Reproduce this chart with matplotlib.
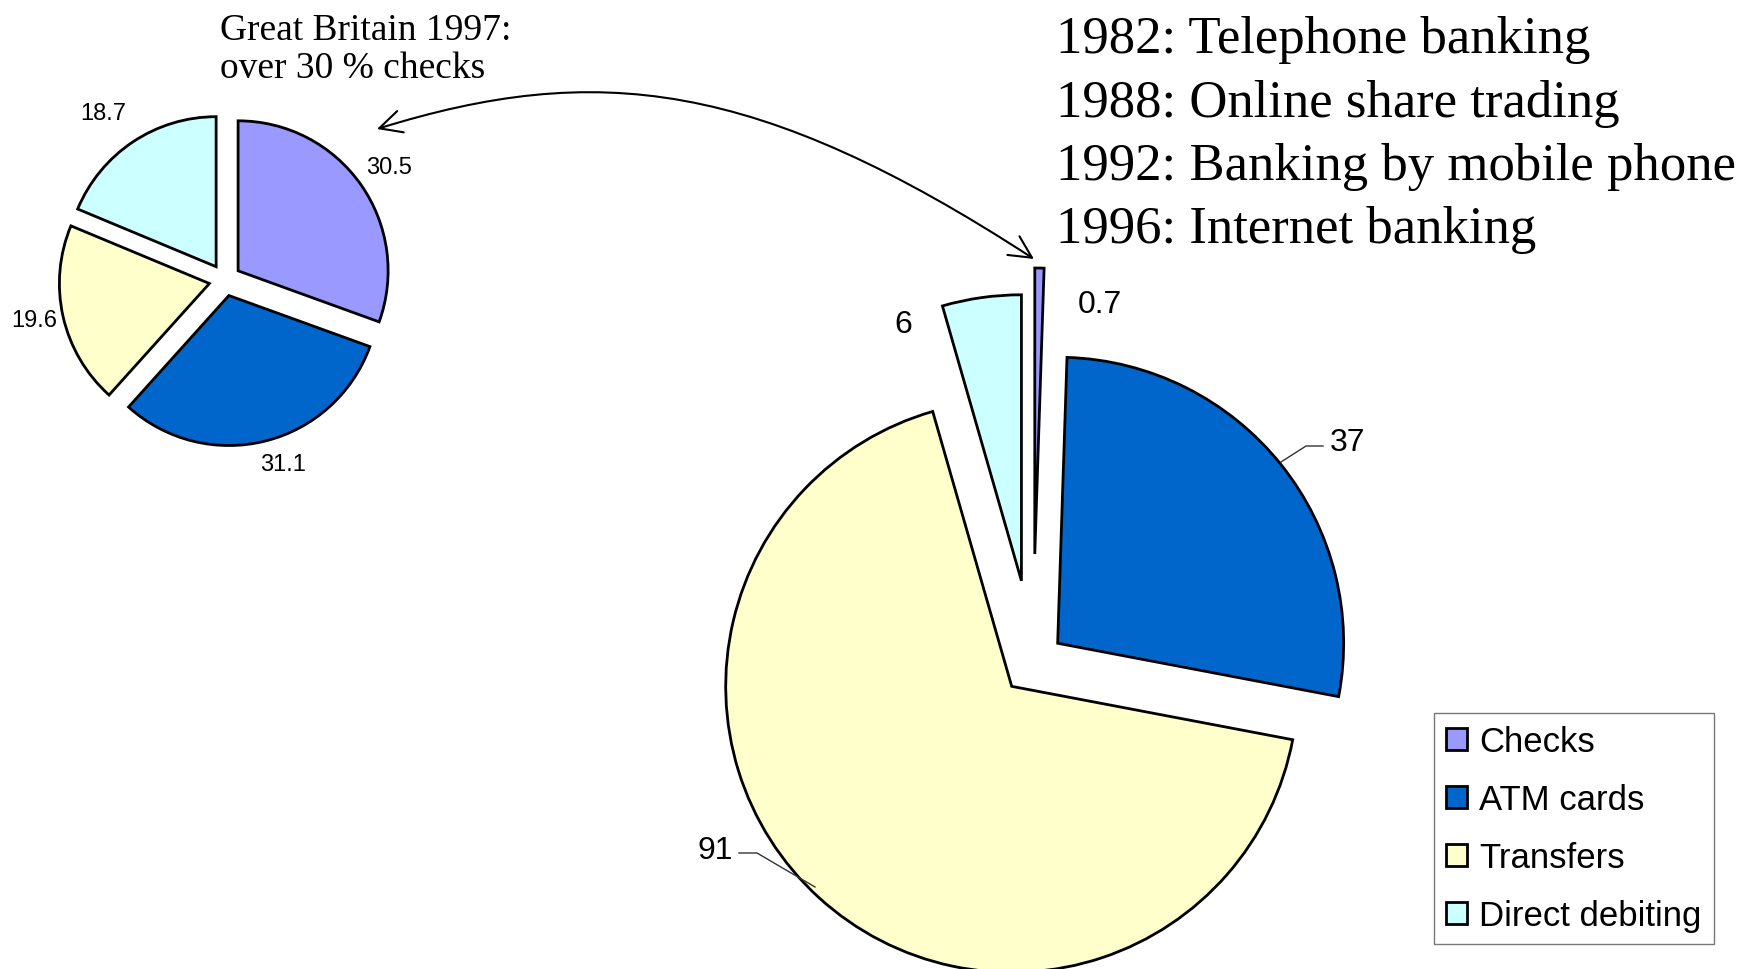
import matplotlib.pyplot as plt
from matplotlib.patches import FancyArrowPatch
from matplotlib.path import Path

# data
categories = ['Checks', 'ATM cards', 'Transfers', 'Direct debiting']
colors = ['#9999FF', '#0066CC', '#FFFFCC', '#CCFFFF']
gb_1997 = [30.5, 31.1, 19.6, 18.7]
big_values = [0.7, 37, 91, 6]
gb_title = 'Great Britain 1997:\nover 30 % checks'
milestones = ['1982: Telephone banking',
              '1988: Online share trading',
              '1992: Banking by mobile phone',
              '1996: Internet banking']

W, H = 1755, 970
fig = plt.figure(figsize=(W / 100, H / 100), dpi=100)
ax = fig.add_axes([0, 0, 1, 1])

# y axis is flipped (pixel coords), so counterclock=True draws clockwise on screen
# explode is given in pixels here (pie does not scale it by radius)
wedge_kw = dict(edgecolor='black', linewidth=2.0)
small, _ = ax.pie(gb_1997, colors=colors, center=(225, 281), radius=150,
                  startangle=-90, counterclock=True, explode=[16] * 4,
                  wedgeprops=wedge_kw, frame=True)
big, _ = ax.pie(big_values, colors=colors, center=(1033, 664), radius=286,
                startangle=-90, counterclock=True,
                explode=[109, 31.6, 31.6, 83],
                wedgeprops=wedge_kw, frame=True)

ax.set_xlim(0, W)
ax.set_ylim(H, 0)
ax.set_aspect('equal')
ax.axis('off')

sans = 'Liberation Sans'
serif = 'Liberation Serif'

# small pie labels
small_pos = [(389, 168), (283, 465), (34, 321), (103, 114)]
for v, (x, y) in zip(gb_1997, small_pos):
    ax.text(x, y, f'{v}', fontsize=17, family=sans, ha='center', va='center')

# big pie labels
big_pos = [(1078, 305, 'left'), (1348, 443, 'center'),
           (715, 851, 'center'), (903, 325, 'center')]
for v, (x, y, ha) in zip(big_values, big_pos):
    ax.text(x, y, f'{v}', fontsize=23, family=sans, ha=ha, va='center')

# leader lines
ax.plot([1323, 1306, 1281], [447, 447, 463], color='#333333', lw=1)
ax.plot([739, 757, 815], [854, 854, 888], color='#333333', lw=1)

ax.text(220, 78, gb_title, fontsize=27, family=serif, ha='left',
        va='baseline', linespacing=1.12)
for i, line in enumerate(milestones):
    ax.text(1056, 53 + i * 63.5, line, fontsize=38, family=serif,
            ha='left', va='baseline')

# curved double arrow between the two check slices
verts = [(377, 130), (596, 62), (757, 80), (1034, 260)]
codes = [Path.MOVETO, Path.CURVE4, Path.CURVE4, Path.CURVE4]
arrow = FancyArrowPatch(path=Path(verts, codes),
                        arrowstyle='<->,head_length=0.8,head_width=0.4',
                        mutation_scale=20, lw=1.5, color='black')
ax.add_patch(arrow)

leg = ax.legend(big, categories, loc='upper left',
                bbox_to_anchor=(1434 / W, 1 - 714 / H),
                bbox_transform=fig.transFigure, borderaxespad=0,
                prop={'family': sans, 'size': 25}, frameon=True,
                fancybox=False, edgecolor='#555555',
                handlelength=0.6, handleheight=0.6, handletextpad=0.35,
                borderpad=0.35, labelspacing=0.72)
leg.get_frame().set_linewidth(1)

fig.savefig('out.png', dpi=100)
